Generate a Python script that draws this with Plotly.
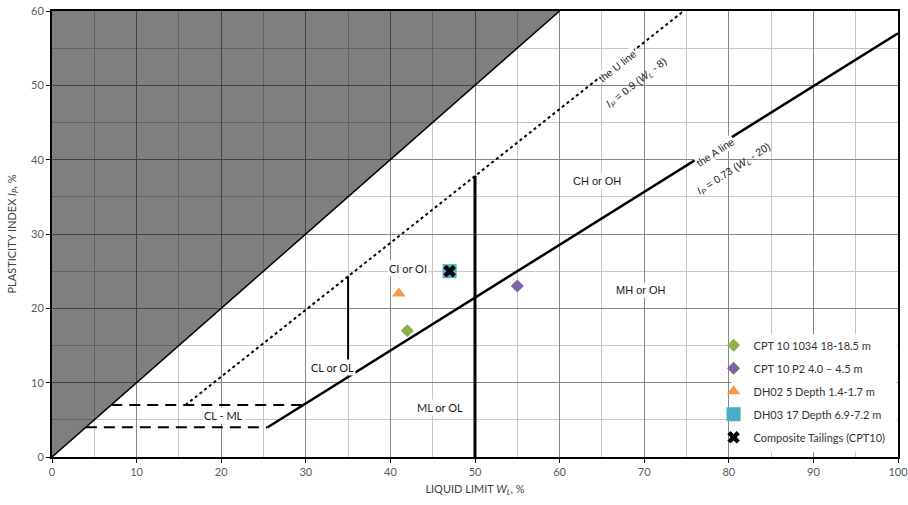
import plotly.graph_objects as go

# ---- data ----
sample_names = ["CPT 10 1034 18-18.5 m", "CPT 10 P2 4.0 \u2013 4.5 m", "DH02 5 Depth 1.4-1.7 m",
                "DH03 17 Depth 6.9-7.2 m", "Composite Tailings (CPT10)"]
sample_ll = [42, 55, 41, 47, 47]
sample_pi = [17, 23, 22, 25, 25]
sample_colors = ["#8DB04A", "#8064A2", "#F79646", "#4BACC6", "#000000"]
sample_symbols = ["diamond", "diamond", "triangle-up", "square", "x"]
sample_sizes = [10, 10, 12, 14, 11]

# chart boundary lines (as drawn in the chart)
a_line_ll = [25.5, 100]           # A line: Ip = 0.73 (WL - 20)
a_line_pi = [4, 57]
u_slope, u_offset = 0.9, 8        # U line: Ip = 0.9 (WL - 8)
clml_low, clml_high = 4, 7        # CL-ML band
ll_divisions = [35, 50]

def a_line(x):
    s = (a_line_pi[1] - a_line_pi[0]) / (a_line_ll[1] - a_line_ll[0])
    return a_line_pi[0] + s * (x - a_line_ll[0])

def a_line_inv(y):
    s = (a_line_pi[1] - a_line_pi[0]) / (a_line_ll[1] - a_line_ll[0])
    return a_line_ll[0] + (y - a_line_pi[0]) / s

def u_line(x):
    return u_slope * (x - u_offset)

fig = go.Figure()

# shaded (impossible) region above Ip = WL
fig.add_trace(go.Scatter(x=[0, 60, 0, 0], y=[0, 60, 60, 0], fill="toself",
                         fillcolor="rgba(0,0,0,0.5)", line=dict(color="rgba(0,0,0,0)", width=0),
                         mode="lines", showlegend=False, hoverinfo="skip"))
fig.add_trace(go.Scatter(x=[0, 60], y=[0, 60], mode="lines", line=dict(color="black", width=1.5),
                         showlegend=False, hoverinfo="skip"))

# A line
fig.add_trace(go.Scatter(x=a_line_ll, y=a_line_pi, mode="lines",
                         line=dict(color="black", width=2.5), showlegend=False, hoverinfo="skip"))
# U line
u_x0 = u_offset + clml_high / u_slope
u_x1 = u_offset + 60 / u_slope
fig.add_trace(go.Scatter(x=[u_x0, u_x1], y=[u_line(u_x0), u_line(u_x1)], mode="lines",
                         line=dict(color="black", width=2, dash="dot"), showlegend=False, hoverinfo="skip"))
# CL-ML dashed lines
for lvl in [clml_low, clml_high]:
    fig.add_trace(go.Scatter(x=[lvl, a_line_inv(lvl)], y=[lvl, lvl], mode="lines",
                             line=dict(color="black", width=2, dash="11px,7px"),
                             showlegend=False, hoverinfo="skip"))
# vertical divisions
fig.add_trace(go.Scatter(x=[ll_divisions[0]] * 2, y=[a_line(ll_divisions[0]), u_line(ll_divisions[0])],
                         mode="lines", line=dict(color="black", width=2), showlegend=False, hoverinfo="skip"))
fig.add_trace(go.Scatter(x=[ll_divisions[1]] * 2, y=[0, u_line(ll_divisions[1])],
                         mode="lines", line=dict(color="black", width=3), showlegend=False, hoverinfo="skip"))

# samples
for i, name in enumerate(sample_names):
    fig.add_trace(go.Scatter(
        x=[sample_ll[i]], y=[sample_pi[i]], mode="markers", name=name,
        legendgroup=f"g{i}",
        marker=dict(color=sample_colors[i], symbol=sample_symbols[i], size=sample_sizes[i],
                    line=dict(width=0)),
    ))

# zone labels
zone_font_a = dict(family="Lato", size=11, color="#1a1a1a")
zone_font_b = dict(family="Liberation Sans", size=11, color="#1a1a1a")
zones = [
    ("CL - ML", 20.3, 5.65, zone_font_a),
    ("CL or OL", 33.1, 12.1, zone_font_a),
    ("CI or OI", 42.1, 25.4, zone_font_a),
    ("ML or OL", 45.9, 6.6, zone_font_a),
    ("CH or OH", 64.4, 37.1, zone_font_b),
    ("MH or OH", 69.6, 22.5, zone_font_b),
]
for txt, x, y, f in zones:
    fig.add_annotation(x=x, y=y, text=txt, showarrow=False, font=f, bgcolor="white",
                       borderpad=1, xanchor="center", yanchor="middle")

line_font = dict(family="Liberation Sans", size=10.5, color="#1a1a1a")
fig.add_annotation(x=66.8, y=52.6, text="the U line", textangle=-38, showarrow=False,
                   font=line_font, bgcolor="white", borderpad=0)
fig.add_annotation(x=69.1, y=50.3, text="<i>I<sub>P</sub></i> = 0.9 (<i>W<sub>L</sub></i> - 8)",
                   textangle=-38, showarrow=False, font=line_font)
fig.add_annotation(x=78.4, y=41.0, text="the A line", textangle=-33, showarrow=False,
                   font=line_font, bgcolor="white", borderpad=0)
fig.add_annotation(x=80.6, y=38.8, text="<i>I<sub>P</sub></i> = 0.73 (<i>W<sub>L</sub></i> - 20)",
                   textangle=-33, showarrow=False, font=line_font)

# white box behind legend
fig.add_shape(type="rect", xref="paper", yref="paper", x0=0.803, x1=0.9985, y0=0.01, y1=0.275,
              fillcolor="white", line=dict(width=0), layer="above")

tick_font = dict(family="Lato", size=11, color="#595959")
fig.update_layout(
    width=908, height=505,
    margin=dict(l=52, r=10, t=11, b=48, autoexpand=False),
    paper_bgcolor="white", plot_bgcolor="white",
    showlegend=True,
    legend=dict(x=0.782, y=0.283, xanchor="left", yanchor="top", bgcolor="rgba(0,0,0,0)",
                font=dict(family="Lato", size=11, color="#333333"), tracegroupgap=4,
                itemsizing="trace"),
    xaxis=dict(range=[0, 100], dtick=10, tick0=0, showgrid=True, gridcolor="#868686", gridwidth=1,
               minor=dict(dtick=5, showgrid=True, gridcolor="#c6c6c6", ticks=""),
               showline=True, linecolor="black", linewidth=2, mirror=True, automargin=False,
               ticklabeloverflow="allow",
               ticks="outside", ticklen=4, tickcolor="black", tickfont=tick_font, zeroline=False,
               title=dict(text="LIQUID LIMIT <i>W<sub>L</sub></i>, %",
                          font=dict(family="Lato", size=11, color="#404040"), standoff=8)),
    yaxis=dict(range=[0, 60], dtick=10, tick0=0, showgrid=True, gridcolor="#868686", gridwidth=1,
               minor=dict(dtick=5, showgrid=True, gridcolor="#c6c6c6", ticks=""),
               showline=True, linecolor="black", linewidth=2, mirror=True, automargin=False,
               ticklabeloverflow="allow",
               ticks="outside", ticklen=4, tickcolor="black", tickfont=tick_font, zeroline=False,
               title=dict(text="PLASTICITY INDEX <i>I<sub>P</sub></i>, %",
                          font=dict(family="Lato", size=11, color="#404040"), standoff=12)),
)

fig.write_html("out.html")
